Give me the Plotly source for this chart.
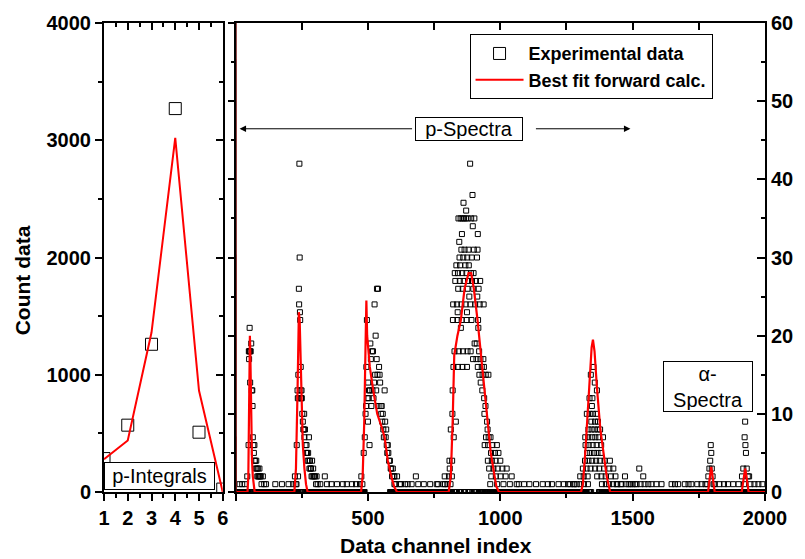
import plotly.graph_objects as go

# ---------------- Left panel: p-Integrals ----------------
integral_index = [1, 2, 3, 4, 5, 6]
integral_data = [285, 570, 1260, 3270, 510, 25]
integral_fit = [280, 440, 1360, 3020, 865, 0]

# ---------------- Right panel: spectra (channel, count) ----------------
p1_ch = [44, 49, 50, 51, 52, 53, 54, 55, 57, 59,
         61, 63, 64, 65, 67, 69, 71, 72, 74, 76,
         78, 80, 82, 84, 86, 88, 90, 92, 95, 98,
         103, 108, 115]
p1_ct = [2, 6, 18, 17, 18, 21, 18, 14, 18, 19,
         13, 13, 11, 7, 6, 5, 6, 4, 4, 3,
         4, 3, 2, 3, 2, 2, 3, 2, 2, 1,
         2, 1, 1]

p2_ch = [224, 227, 230, 231, 234, 235, 236, 237, 238, 239,
         240, 241, 242, 243, 244, 245, 246, 247, 248, 249,
         250, 252, 254, 256, 258, 259, 260, 262, 264, 266,
         268, 270, 272, 274, 276, 277, 279, 281, 283, 285,
         287, 289, 291, 293, 296, 300, 304, 306, 310, 337]
p2_ct = [2, 1, 1, 6, 13, 12, 2, 15, 12, 26,
         24, 42, 30, 23, 22, 13, 16, 12, 12, 13,
         12, 10, 9, 8, 8, 10, 7, 8, 6, 5,
         6, 5, 4, 5, 4, 7, 3, 4, 3, 3,
         2, 4, 2, 3, 2, 2, 1, 2, 1, 2]

p3_ch = [470, 475, 479, 484, 488, 491, 493, 494, 496, 498,
         500, 501, 502, 504, 506, 508, 509, 511, 513, 515,
         517, 519, 521, 523, 525, 527, 529, 531, 533, 534,
         536, 538, 540, 542, 544, 546, 548, 550, 552, 554,
         556, 558, 560, 563, 565, 567, 569, 571, 573, 575,
         577, 580, 583, 586, 588, 591, 594, 597, 600, 604,
         610, 620, 640, 665, 681]
p3_ct = [1, 2, 1, 5, 7, 10, 11, 16, 22, 12,
         9, 14, 12, 13, 6, 13, 19, 17, 11, 18,
         13, 18, 12, 14, 24, 15, 20, 13, 17, 26,
         15, 26, 11, 16, 15, 14, 11, 10, 11, 9,
         10, 8, 7, 13, 9, 7, 8, 6, 5, 6,
         5, 4, 4, 3, 3, 2, 3, 2, 2, 1,
         2, 1, 1, 1, 2]

p4_ch = [886, 895, 861, 871, 842, 850, 857, 863, 870, 877,
         890, 902, 896, 855, 915, 845, 853, 865, 880, 900,
         914, 846, 860, 875, 892, 912, 834, 848, 868, 881,
         828, 840, 856, 872, 889, 899, 830, 847, 862, 878,
         893, 908, 924, 841, 858, 876, 898, 918, 883, 913,
         822, 836, 853, 869, 887, 905, 922, 937, 839, 874,
         821, 838, 854, 873, 891, 916, 851, 917, 903, 911,
         827, 843, 859, 876, 888, 920, 897, 910, 925, 936,
         823, 840, 857, 874, 915, 930, 938, 921, 933, 945,
         955, 926, 820, 932, 939, 944, 819, 940, 832, 950,
         813, 952, 824, 946, 956, 963, 941, 954, 970, 987,
         965, 980, 993, 808, 818, 953, 968, 982, 1000, 809,
         958, 974, 990, 1008, 1024, 790, 806, 817, 966, 983,
         1001, 1020, 1043, 765, 791, 812, 962, 988, 1012, 1036,
         1062]
p4_ct = [42, 38, 37, 36, 35, 35, 35, 35, 35, 35,
         35, 35, 34, 33, 33, 32, 31, 31, 31, 31,
         31, 30, 30, 30, 30, 30, 29, 29, 29, 29,
         28, 28, 28, 28, 28, 28, 27, 27, 27, 27,
         27, 27, 27, 26, 26, 26, 26, 26, 25, 25,
         24, 24, 24, 24, 24, 24, 24, 24, 23, 23,
         22, 22, 22, 22, 22, 22, 21, 21, 19, 19,
         18, 18, 18, 18, 18, 18, 17, 17, 17, 17,
         16, 16, 16, 16, 16, 16, 16, 15, 15, 15,
         15, 14, 13, 13, 12, 11, 10, 10, 9, 9,
         8, 8, 7, 7, 7, 7, 6, 6, 6, 6,
         5, 5, 5, 4, 4, 4, 4, 4, 4, 3,
         3, 3, 3, 3, 3, 2, 2, 2, 2, 2,
         2, 2, 2, 1, 1, 1, 1, 1, 1, 1,
         1]

p5_ch = [1352, 1342, 1357, 1365, 1337, 1348, 1346, 1327, 1338, 1350,
         1363, 1344, 1358, 1369, 1333, 1345, 1356, 1368, 1377, 1321,
         1332, 1347, 1359, 1372, 1388, 1322, 1334, 1349, 1364, 1381,
         1328, 1340, 1354, 1367, 1380, 1320, 1333, 1347, 1362, 1376,
         1394, 1414, 1312, 1326, 1341, 1358, 1374, 1392, 1412, 1427,
         1302, 1315, 1330, 1366, 1382, 1398, 1418, 1435, 1471, 1264,
         1277, 1289, 1303, 1316, 1331, 1384, 1399, 1411, 1426, 1442,
         1458, 1475, 1492, 1509]
p5_ct = [16, 15, 14, 13, 12, 12, 11, 10, 10, 10,
         10, 9, 9, 9, 8, 8, 8, 8, 8, 7,
         7, 7, 7, 7, 7, 6, 6, 6, 6, 6,
         5, 5, 5, 5, 5, 4, 4, 4, 4, 4,
         4, 4, 3, 3, 3, 3, 3, 3, 3, 3,
         2, 2, 2, 2, 2, 2, 2, 2, 2, 1,
         1, 1, 1, 1, 1, 1, 1, 1, 1, 1,
         1, 1, 1, 1]

p6_ch = [1782, 1786, 1790, 1793, 1795, 1797, 1799, 1802, 1806]
p6_ct = [1, 2, 3, 4, 6, 5, 3, 2, 1]

p7_ch = [1913, 1918, 1921, 1923, 1925, 1926, 1928, 1931, 1935, 1940]
p7_ct = [2, 3, 1, 7, 9, 6, 5, 3, 2, 2]

extra_ch = [1525, 1540]
extra_ct = [3, 2]

ones_ch = [15, 25, 35, 150, 175, 200, 218, 320, 345, 362, 383, 405, 420, 440,
           455, 600, 625, 650, 690, 711, 735, 760, 785, 800, 1070, 1090, 1110,
           1135, 1160, 1180, 1195, 1220, 1240, 1256, 1280, 1440, 1455, 1485,
           1500, 1515, 1530, 1545, 1559, 1571, 1590, 1609, 1647, 1660, 1672,
           1697, 1711, 1722, 1744, 1760, 1775, 1810, 1828, 1845, 1860, 1880,
           1900, 1945, 1960, 1975, 1990]

# channel ranges where the count is zero
zero_ranges = [(0, 46), (60, 236), (248, 487), (583, 1343), (1372, 2000)]

# best-fit forward calculation (channel, value)
spike_ch = [0, 1]
spike_val = [100, 0]
fit_ch = [1,
          45, 48, 50, 52, 54, 56, 58, 60, 62, 65, 68, 72,
          222, 228, 234, 239, 242, 245, 249, 254, 260, 266, 272,
          474, 480, 486, 491, 494, 497, 501, 507, 520, 535, 550, 563, 575, 588, 600, 610,
          805, 813, 820, 826, 838, 851, 865, 880, 890, 900, 914, 926, 939, 951, 964, 976, 985, 995,
          1305, 1312, 1321, 1336, 1345, 1350, 1356, 1365, 1378, 1390, 1402, 1415,
          1785, 1792, 1797, 1802, 1810,
          1912, 1920, 1925, 1930, 1938, 2000]
fit_val = [0,
           0, 2, 8, 16, 20, 17, 11, 7, 4, 2, 1, 0,
           0, 3, 13, 23, 22, 17, 11, 6, 3, 1, 0,
           0, 2, 9, 19, 24.5, 20, 18, 16, 13, 10, 8.5, 7, 4, 2, 0.6, 0,
           0, 2, 9, 17.5, 20, 22, 26, 28, 28, 26, 22, 18, 13, 9.5, 5, 2.5, 0.7, 0,
           0, 1, 5, 13.4, 18.5, 19.5, 18, 13.4, 8, 5, 2, 0,
           0, 2, 3.2, 2, 0,
           0, 2, 3, 2, 0, 0]

# ---------------- assemble spectrum points ----------------
spec_x, spec_y = [], []
for chs, cts in [(p1_ch, p1_ct), (p2_ch, p2_ct), (p3_ch, p3_ct), (p4_ch, p4_ct),
                 (p5_ch, p5_ct), (p6_ch, p6_ct), (p7_ch, p7_ct), (extra_ch, extra_ct),
                 (ones_ch, [1] * len(ones_ch))]:
    spec_x += list(chs)
    spec_y += list(cts)
nonzero = set(spec_x)
for a, b in zero_ranges:
    for c in range(a, b + 1):
        if c not in nonzero:
            spec_x.append(c)
            spec_y.append(0)

FONT = "Liberation Sans, Arial, Helvetica, sans-serif"
BLACK = "black"
RED = "#ff0000"

fig = go.Figure()

fig.add_trace(go.Scatter(
    x=integral_index, y=integral_data, mode="markers", name="Experimental data",
    marker=dict(symbol="square-open", size=12, color=BLACK, line=dict(width=1, color=BLACK)),
    xaxis="x", yaxis="y", cliponaxis=True))
fig.add_trace(go.Scatter(
    x=integral_index, y=integral_fit, mode="lines", name="Best fit forward calc.",
    line=dict(color=RED, width=2), xaxis="x", yaxis="y"))

fig.add_trace(go.Scatter(
    x=spec_x, y=spec_y, mode="markers", showlegend=False,
    marker=dict(symbol="square-open", size=5, color=BLACK, line=dict(width=1, color=BLACK)),
    xaxis="x2", yaxis="y2", cliponaxis=True))
fig.add_trace(go.Scatter(
    x=fit_ch, y=fit_val, mode="lines", showlegend=False,
    line=dict(color=RED, width=2.2), xaxis="x2", yaxis="y2"))
fig.add_trace(go.Scatter(
    x=spike_ch, y=spike_val, mode="lines", showlegend=False,
    line=dict(color="#6b0000", width=2), xaxis="x2", yaxis="y2"))

# empty traces to activate the decorative tick-only axes
for xa, ya in [("x3", "y"), ("x", "y3"), ("x4", "y2"), ("x2", "y4")]:
    fig.add_trace(go.Scatter(x=[], y=[], xaxis=xa, yaxis=ya, showlegend=False, hoverinfo="skip"))

tickfont = dict(family=FONT, size=20, color=BLACK, weight="bold")
PW = 805 - 104 - 33
D1 = [0, 120 / PW]
D2 = [133 / PW, 1]

common = dict(showgrid=False, zeroline=False, linecolor=BLACK, tickcolor=BLACK)

fig.update_layout(
    width=805, height=559,
    margin=dict(l=104, r=33, t=22, b=67),
    paper_bgcolor="white", plot_bgcolor="white",
    font=dict(family=FONT, color=BLACK),
    showlegend=True,
    legend=dict(x=0.553, y=0.976, xanchor="left", yanchor="top",
                bgcolor="white", bordercolor=BLACK, borderwidth=1,
                font=dict(family=FONT, size=18, color=BLACK, weight="bold"),
                itemwidth=48, tracegroupgap=0),
    xaxis=dict(domain=D1, range=[1, 6], anchor="y", tickmode="array",
               tickvals=[1, 2, 3, 4, 5, 6], ticks="outside", ticklen=7, tickwidth=1.5,
               minor=dict(tickmode="array", tickvals=[1.5, 2.5, 3.5, 4.5, 5.5],
                          ticks="outside", ticklen=4, tickwidth=1.5, tickcolor=BLACK),
               showline=True, linewidth=2, mirror=True, tickfont=tickfont, **common),
    xaxis3=dict(overlaying="x", side="top", anchor="y", range=[1, 6], tickmode="array",
                tickvals=[1, 2, 3, 4, 5, 6], ticks="inside", ticklen=7, tickwidth=1.5,
                minor=dict(tickmode="array", tickvals=[1.5, 2.5, 3.5, 4.5, 5.5],
                           ticks="inside", ticklen=4, tickwidth=1.5, tickcolor=BLACK),
                showticklabels=False, showline=False, **common),
    yaxis=dict(domain=[0, 1], range=[0, 4000], anchor="x", tickmode="array",
               tickvals=[0, 1000, 2000, 3000, 4000], ticks="outside", ticklen=7, tickwidth=1.5,
               minor=dict(tickmode="array", tickvals=[500, 1500, 2500, 3500],
                          ticks="outside", ticklen=4, tickwidth=1.5, tickcolor=BLACK),
               showline=True, linewidth=2, mirror=True, tickfont=tickfont, **common),
    yaxis3=dict(overlaying="y", side="right", anchor="x", range=[0, 4000], tickmode="array",
                tickvals=[0, 1000, 2000, 3000, 4000], ticks="inside", ticklen=7, tickwidth=1.5,
                minor=dict(tickmode="array", tickvals=[500, 1500, 2500, 3500],
                           ticks="inside", ticklen=4, tickwidth=1.5, tickcolor=BLACK),
                showticklabels=False, showline=False, **common),
    xaxis2=dict(domain=D2, range=[0, 2000], anchor="y2", tickmode="array",
                tickvals=[0, 500, 1000, 1500, 2000], ticktext=["", "500", "1000", "1500", "2000"],
                ticks="outside", ticklen=7, tickwidth=1.5,
                minor=dict(tickmode="array", tickvals=[250, 750, 1250, 1750],
                           ticks="outside", ticklen=4, tickwidth=1.5, tickcolor=BLACK),
                showline=True, linewidth=2, mirror=True, tickfont=tickfont, **common),
    xaxis4=dict(overlaying="x2", side="top", anchor="y2", range=[0, 2000], tickmode="array",
                tickvals=[500, 1000, 1500], ticks="inside", ticklen=7, tickwidth=1.5,
                minor=dict(tickmode="array", tickvals=[250, 750, 1250, 1750],
                           ticks="inside", ticklen=7, tickwidth=1.5, tickcolor=BLACK),
                showticklabels=False, showline=False, **common),
    yaxis2=dict(domain=[0, 1], range=[0, 60], anchor="x2", side="right", tickmode="array",
                tickvals=[0, 10, 20, 30, 40, 50, 60], ticks="inside", ticklen=8, tickwidth=1.5,
                minor=dict(tickmode="array", tickvals=[5, 15, 25, 35, 45, 55],
                           ticks="inside", ticklen=4, tickwidth=1.5, tickcolor=BLACK),
                showline=True, linewidth=2, mirror=True, tickfont=tickfont, **common),
    yaxis4=dict(overlaying="y2", side="left", anchor="x2", range=[0, 60], tickmode="array",
                tickvals=[0, 10, 20, 30, 40, 50, 60], ticks="outside", ticklen=7, tickwidth=1.5,
                minor=dict(tickmode="array", tickvals=[5, 15, 25, 35, 45, 55],
                           ticks="outside", ticklen=4, tickwidth=1.5, tickcolor=BLACK),
                showticklabels=False, showline=False, **common),
)

box = dict(bordercolor=BLACK, borderwidth=1, bgcolor="white", borderpad=1,
           xanchor="center", yanchor="middle",
           font=dict(family=FONT, size=20, color=BLACK))


def px(xp):
    return (xp - 104) / PW


def py(yp):
    return (492 - yp) / 470


annots = [
    dict(text="Count data", x=px(22), y=py(280), xref="paper", yref="paper", textangle=-90,
         xanchor="center", yanchor="middle", showarrow=False,
         font=dict(family=FONT, size=21, color=BLACK, weight="bold")),
    dict(text="Data channel index", x=px(440), y=py(546), xref="paper", yref="paper",
         xanchor="center", yanchor="middle", showarrow=False,
         font=dict(family=FONT, size=21, color=BLACK, weight="bold")),
    dict(text="p-Spectra", x=px(473), y=py(128), xref="paper", yref="paper",
         showarrow=False, width=104, height=20, **box),
    dict(text="p-Integrals", x=px(160), y=py(476), xref="paper", yref="paper",
         showarrow=False, width=107, height=24, **box),
    dict(text="\u03b1-<br>Spectra", x=px(714), y=py(386), xref="paper",
         yref="paper", showarrow=False, width=86, height=47, align="center", **box),
    dict(text="", x=px(241), y=py(128), xref="paper", yref="paper",
         showarrow=True, ax=174, ay=0, arrowhead=2, arrowsize=1.3, arrowwidth=1, arrowcolor=BLACK),
    dict(text="", x=px(636), y=py(128), xref="paper", yref="paper",
         showarrow=True, ax=-96, ay=0, arrowhead=2, arrowsize=1.3, arrowwidth=1, arrowcolor=BLACK),
]
fig.update_layout(annotations=annots)

fig.write_html("out.html", config={"displayModeBar": False},
               post_script="document.body.style.margin='0';")
